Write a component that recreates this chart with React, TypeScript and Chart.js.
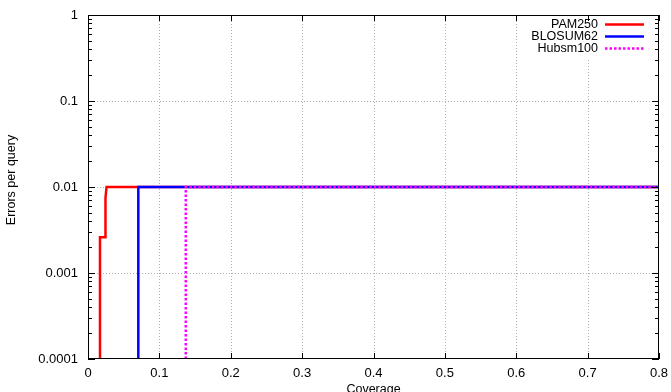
import React, { useEffect, useRef } from "react";
import { Chart, registerables } from "chart.js";

Chart.register(...registerables);

// ---- data ----
const pamX = [0.0168, 0.0168, 0.0245, 0.0245, 0.026, 0.8];
const pamY = [0.0001, 0.0026, 0.0026, 0.0075, 0.01, 0.01];
const blosumX = [0.0705, 0.0705, 0.8];
const blosumY = [0.0001, 0.01, 0.01];
const hubX = [0.137, 0.137, 0.8];
const hubY = [0.0001, 0.01, 0.01];

const seriesNames = ["PAM250", "BLOSUM62", "Hubsm100"];
const seriesColors = ["#ff0000", "#0000ff", "#ff00ff"];

const xTickValues = [0, 0.1, 0.2, 0.3, 0.4, 0.5, 0.6, 0.7, 0.8];
const yTickValues = [0.0001, 0.001, 0.01, 0.1, 1];

const xTitle = "Coverage";
const yTitle = "Errors per query";

const FONT = "'Liberation Sans', Arial, Helvetica, sans-serif";

const framePlugin = {
  id: "gnuFrame",
  beforeDatasetsDraw(chart: any) {
    const { ctx, chartArea: a, scales } = chart;
    const x = scales.x;
    const y = scales.y;
    ctx.save();
    ctx.strokeStyle = "#b0b0b0";
    ctx.lineWidth = 1;
    ctx.setLineDash([1, 2]);
    ctx.beginPath();
    xTickValues.slice(1, -1).forEach((v) => {
      const px = Math.round(x.getPixelForValue(v)) + 0.5;
      ctx.moveTo(px, a.top);
      ctx.lineTo(px, a.bottom);
    });
    yTickValues.slice(1, -1).forEach((v) => {
      const py = Math.round(y.getPixelForValue(v)) + 0.5;
      ctx.moveTo(a.left, py);
      ctx.lineTo(a.right, py);
    });
    ctx.stroke();
    ctx.setLineDash([]);
    // key background
    ctx.fillStyle = "#ffffff";
    ctx.fillRect(a.right - 129, a.top + 1, 128, 42);
    ctx.restore();
  },
  afterDatasetsDraw(chart: any) {
    const { ctx, chartArea: a, scales } = chart;
    const x = scales.x;
    const y = scales.y;
    ctx.save();
    ctx.setLineDash([]);
    ctx.strokeStyle = "#000000";
    ctx.lineWidth = 1;
    ctx.beginPath();
    // major x ticks top/bottom
    xTickValues.forEach((v) => {
      const px = Math.round(x.getPixelForValue(v)) + 0.5;
      ctx.moveTo(px, a.bottom);
      ctx.lineTo(px, a.bottom - 6);
      ctx.moveTo(px, a.top);
      ctx.lineTo(px, a.top + 6);
    });
    // y ticks major + minor, left/right
    for (let d = 0; d < yTickValues.length; d++) {
      const base = yTickValues[d];
      const py = Math.round(y.getPixelForValue(base)) + 0.5;
      ctx.moveTo(a.left, py);
      ctx.lineTo(a.left + 7, py);
      ctx.moveTo(a.right, py);
      ctx.lineTo(a.right - 7, py);
      if (d < yTickValues.length - 1) {
        for (let m = 2; m <= 9; m++) {
          const pm = Math.round(y.getPixelForValue(base * m)) + 0.5;
          ctx.moveTo(a.left, pm);
          ctx.lineTo(a.left + 4, pm);
          ctx.moveTo(a.right, pm);
          ctx.lineTo(a.right - 4, pm);
        }
      }
    }
    ctx.stroke();
    // border
    ctx.strokeRect(Math.round(a.left) + 0.5, Math.round(a.top) + 0.5, Math.round(a.right - a.left) - 1, Math.round(a.bottom - a.top) - 1);

    // legend
    ctx.font = "12.5px " + FONT;
    ctx.fillStyle = "#000000";
    ctx.textAlign = "right";
    ctx.textBaseline = "middle";
    const rowY = [a.top + 9.5, a.top + 21.5, a.top + 33.5];
    const textRight = a.right - 61;
    const lineL = a.right - 54;
    const lineR = a.right - 15;
    chart.data.datasets.forEach((ds: any, i: number) => {
      ctx.fillText(seriesNames[i], textRight, rowY[i]);
      ctx.beginPath();
      ctx.strokeStyle = seriesColors[i];
      ctx.lineWidth = ds.borderWidth;
      ctx.setLineDash(ds.borderDash || []);
      ctx.moveTo(lineL, rowY[i]);
      ctx.lineTo(lineR, rowY[i]);
      ctx.stroke();
    });
    ctx.setLineDash([]);

    // axis titles
    ctx.fillStyle = "#000000";
    ctx.font = "12.5px " + FONT;
    ctx.textAlign = "center";
    ctx.textBaseline = "alphabetic";
    ctx.fillText(xTitle, (a.left + a.right) / 2, 393);
    ctx.save();
    ctx.translate(12, 180);
    ctx.rotate(-Math.PI / 2);
    ctx.textBaseline = "middle";
    ctx.fillText(yTitle, 0, 0);
    ctx.restore();
    ctx.restore();
  },
};

function App() {
  const ref = useRef<HTMLCanvasElement | null>(null);
  useEffect(() => {
    if (!ref.current) return;
    const mk = (xs: number[], ys: number[]) => xs.map((v, i) => ({ x: v, y: ys[i] }));
    const chart = new Chart(ref.current, {
      type: "line",
      data: {
        datasets: [
          {
            label: seriesNames[0],
            data: mk(pamX, pamY),
            borderColor: seriesColors[0],
            borderWidth: 2.5,
            pointRadius: 0,
            tension: 0,
            fill: false,
            order: 3,
          },
          {
            label: seriesNames[1],
            data: mk(blosumX, blosumY),
            borderColor: seriesColors[1],
            borderWidth: 2.5,
            pointRadius: 0,
            tension: 0,
            fill: false,
            order: 2,
          },
          {
            label: seriesNames[2],
            data: mk(hubX, hubY),
            borderColor: seriesColors[2],
            borderWidth: 2.5,
            borderDash: [2.5, 2],
            pointRadius: 0,
            tension: 0,
            fill: false,
            order: 1,
          },
        ],
      },
      options: {
        animation: false,
        responsive: false,
        devicePixelRatio: 1,
        layout: { padding: { top: 15, right: 12, left: 0, bottom: 0 } },
        plugins: {
          legend: { display: false },
          title: { display: false },
          tooltip: { enabled: false },
        },
        scales: {
          x: {
            type: "linear",
            min: 0,
            max: 0.8,
            grid: { display: false, drawTicks: false },
            border: { display: false },
            afterBuildTicks: (s: any) => {
              s.ticks = xTickValues.map((v) => ({ value: v }));
            },
            afterFit: (s: any) => {
              s.height = 33;
              s.paddingLeft = 0;
              s.paddingRight = 0;
              s.paddingTop = 0;
              s.paddingBottom = 0;
            },
            ticks: {
              padding: 7,
              color: "#000",
              font: { family: FONT, size: 13 },
              maxRotation: 0,
              autoSkip: false,
              callback: (v: any) => String(Number(Number(v).toFixed(1))),
            },
          },
          y: {
            type: "logarithmic",
            min: 0.0001,
            max: 1,
            grid: { display: false, drawTicks: false },
            border: { display: false },
            afterBuildTicks: (s: any) => {
              s.ticks = yTickValues.map((v) => ({ value: v }));
            },
            afterFit: (s: any) => {
              s.width = 88;
              s.paddingLeft = 0;
              s.paddingRight = 0;
              s.paddingTop = 0;
              s.paddingBottom = 0;
            },
            ticks: {
              padding: 10,
              color: "#000",
              font: { family: FONT, size: 13 },
              autoSkip: false,
              callback: (v: any) => String(Number(v)),
            },
          },
        },
      },
      plugins: [framePlugin],
    } as any);
    return () => chart.destroy();
  }, []);
  return (
    <div style={{ position: "fixed", left: 0, top: 0, width: 671, height: 392, background: "#fff" }}>
      <canvas ref={ref} width={671} height={392} style={{ display: "block" }} />
    </div>
  );
}

export default App;
